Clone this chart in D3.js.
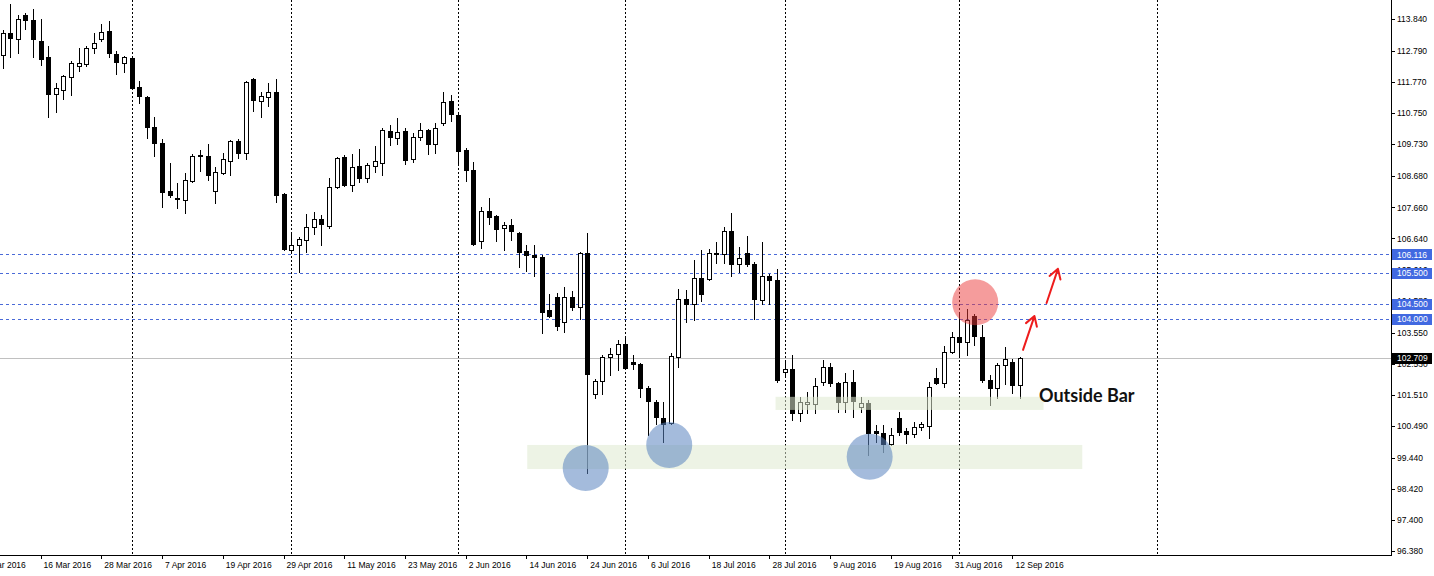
<!DOCTYPE html>
<html><head><meta charset="utf-8">
<script src="https://cdn.jsdelivr.net/npm/d3@7"></script>
<style>html,body{margin:0;padding:0;background:#fff;overflow:hidden}svg{display:block}</style>
</head><body><svg id="c" width="1434" height="576"></svg>
<script>
// ---------- DATA ----------
const dates = [
"2016-03-09","2016-03-10","2016-03-11","2016-03-14","2016-03-15","2016-03-16","2016-03-17","2016-03-18","2016-03-21","2016-03-22","2016-03-23","2016-03-24","2016-03-25","2016-03-28","2016-03-29","2016-03-30","2016-03-31",
"2016-04-01","2016-04-04","2016-04-05","2016-04-06","2016-04-07","2016-04-08","2016-04-11","2016-04-12","2016-04-13","2016-04-14","2016-04-15","2016-04-18","2016-04-19","2016-04-20","2016-04-21","2016-04-22","2016-04-25","2016-04-26","2016-04-27","2016-04-28","2016-04-29",
"2016-05-02","2016-05-03","2016-05-04","2016-05-05","2016-05-06","2016-05-09","2016-05-10","2016-05-11","2016-05-12","2016-05-13","2016-05-16","2016-05-17","2016-05-18","2016-05-19","2016-05-20","2016-05-23","2016-05-24","2016-05-25","2016-05-26","2016-05-27","2016-05-30","2016-05-31",
"2016-06-01","2016-06-02","2016-06-03","2016-06-06","2016-06-07","2016-06-08","2016-06-09","2016-06-10","2016-06-13","2016-06-14","2016-06-15","2016-06-16","2016-06-17","2016-06-20","2016-06-21","2016-06-22","2016-06-23","2016-06-24","2016-06-27","2016-06-28","2016-06-29","2016-06-30",
"2016-07-01","2016-07-04","2016-07-05","2016-07-06","2016-07-07","2016-07-08","2016-07-11","2016-07-12","2016-07-13","2016-07-14","2016-07-15","2016-07-18","2016-07-19","2016-07-20","2016-07-21","2016-07-22","2016-07-25","2016-07-26","2016-07-27","2016-07-28","2016-07-29",
"2016-08-01","2016-08-02","2016-08-03","2016-08-04","2016-08-05","2016-08-08","2016-08-09","2016-08-10","2016-08-11","2016-08-12","2016-08-15","2016-08-16","2016-08-17","2016-08-18","2016-08-19","2016-08-22","2016-08-23","2016-08-24","2016-08-25","2016-08-26","2016-08-29","2016-08-30","2016-08-31",
"2016-09-01","2016-09-02","2016-09-05","2016-09-06","2016-09-07","2016-09-08","2016-09-09","2016-09-12","2016-09-13"];

const openP = [112.66,113.38,113.18,113.97,113.81,113.12,112.59,111.38,111.51,111.94,112.30,112.36,112.89,113.18,113.45,112.69,112.40,112.56,111.61,111.28,110.30,109.77,108.20,107.97,107.90,108.52,109.34,109.34,108.20,108.79,109.18,109.84,109.44,111.87,111.15,111.28,111.45,108.10,106.26,106.42,106.59,107.01,107.28,107.05,108.33,109.31,108.39,109.02,108.62,109.02,109.11,110.16,109.94,110.16,109.25,109.97,110.20,109.74,110.43,111.15,110.69,109.54,108.89,106.55,107.54,107.38,106.98,107.08,106.82,106.23,106.10,106.03,104.29,104.72,103.90,104.72,104.39,106.16,101.53,101.96,102.75,102.85,103.17,102.58,102.52,101.73,101.27,100.75,100.58,102.75,104.65,104.49,105.34,105.31,106.13,106.13,106.88,105.80,106.16,105.80,104.62,105.41,105.27,102.26,102.35,100.91,101.20,101.20,101.93,102.42,101.89,101.27,101.93,101.11,101.24,100.32,100.25,99.89,100.75,100.32,100.22,100.45,100.48,102.06,101.89,102.91,103.40,103.24,104.09,103.40,101.99,101.73,102.49,102.58,101.83];
const highP = [113.48,114.33,113.97,114.04,114.17,113.84,112.95,111.74,112.00,112.46,112.89,112.95,113.38,113.68,113.77,112.79,112.63,112.59,111.81,111.31,110.62,109.90,109.11,108.46,108.79,109.41,109.54,109.74,108.98,109.44,109.87,109.90,111.81,111.90,111.45,111.74,111.87,108.13,106.85,106.69,107.44,107.51,107.41,108.62,109.31,109.38,109.41,109.57,109.11,109.67,110.26,110.36,110.59,110.26,110.10,110.43,110.23,110.43,111.45,111.35,110.79,109.61,109.15,107.67,107.97,107.41,107.18,107.28,106.85,106.42,106.42,106.10,104.82,104.85,105.04,104.91,106.19,106.82,102.03,102.81,103.04,103.31,103.37,102.81,102.55,101.80,101.34,101.27,102.88,104.98,104.95,105.93,106.26,106.29,106.52,107.01,107.47,106.36,106.72,105.87,106.52,105.47,105.64,102.65,102.81,101.44,101.60,102.06,102.65,102.55,101.93,102.22,102.32,101.44,101.34,100.52,100.52,100.42,100.94,100.42,100.61,100.61,101.93,102.39,103.11,103.57,104.19,104.32,104.16,103.80,102.16,102.55,103.08,102.68,102.75];
const lowP = [112.23,112.59,112.72,113.51,112.59,112.33,110.62,110.79,111.21,111.35,112.13,112.30,112.72,113.12,112.59,112.04,112.10,111.54,111.08,109.94,109.34,107.67,108.00,107.64,107.47,108.49,108.85,108.56,107.80,108.75,108.72,109.28,109.25,110.82,110.62,110.99,107.83,106.26,106.23,105.54,106.19,106.78,106.42,106.98,108.29,108.36,108.20,108.49,108.49,108.82,108.72,109.70,109.74,109.08,109.15,109.87,109.41,109.44,110.36,110.49,109.11,108.52,106.42,106.32,107.11,106.55,106.26,106.59,105.70,105.57,105.41,103.54,104.06,103.63,103.57,104.29,103.99,98.94,101.40,101.53,102.16,102.32,102.35,102.35,101.44,100.19,100.55,99.96,100.55,102.42,103.90,103.96,104.59,105.27,105.83,105.83,105.41,105.54,105.73,103.99,104.49,104.49,101.93,102.16,100.68,100.65,100.91,100.91,101.83,101.80,100.94,100.94,100.78,100.94,99.53,99.96,99.63,99.86,100.19,99.92,100.12,100.35,100.09,101.86,101.76,102.88,102.81,102.81,103.14,101.93,101.17,101.40,101.86,101.57,101.40];
const closeP = [113.38,113.22,113.84,113.81,113.18,112.53,111.38,111.58,111.97,112.40,112.40,112.89,113.05,113.41,112.72,112.43,112.59,111.58,111.31,110.30,109.77,108.16,108.06,107.93,108.56,109.34,109.38,108.72,108.82,109.25,109.84,109.44,111.77,111.18,111.31,111.45,108.06,106.29,106.42,106.62,107.01,107.28,107.11,108.33,109.28,108.39,108.98,108.62,109.05,109.18,110.20,109.97,110.13,109.21,109.97,110.20,109.74,110.26,111.12,110.72,109.51,108.89,106.46,107.54,107.34,106.95,107.08,106.88,106.19,106.10,106.03,104.22,104.09,103.77,104.72,104.39,106.16,102.19,101.96,102.75,102.85,103.17,102.39,102.52,101.73,101.30,100.78,100.55,102.78,104.65,104.49,105.34,104.82,106.16,106.16,106.88,105.80,106.00,105.80,104.65,105.41,105.27,101.99,102.35,100.91,101.27,101.27,101.80,102.42,101.89,101.27,101.93,101.30,101.24,100.25,100.25,99.89,100.19,100.29,100.22,100.45,100.55,101.76,101.89,102.91,103.40,103.24,103.96,103.44,101.99,101.73,102.49,102.68,101.83,102.709];

const yTickValues = [113.840,112.790,111.770,110.750,109.730,108.680,107.660,106.640,105.610,104.580,103.550,102.530,101.510,100.490,99.440,98.420,97.400,96.380];
const xTickLabels = ["4 Mar 2016","16 Mar 2016","28 Mar 2016","7 Apr 2016","19 Apr 2016","29 Apr 2016","11 May 2016","23 May 2016","2 Jun 2016","14 Jun 2016","24 Jun 2016","6 Jul 2016","18 Jul 2016","28 Jul 2016","9 Aug 2016","19 Aug 2016","31 Aug 2016","12 Sep 2016"];
const xTickBars = [-3,5,13,21,29,37,45,53,61,69,77,85,93,101,109,117,125,133];
const separatorBars = [17,38,60,82,103,126,152];   // first bar of Apr..Sep, and Oct (future)
const levelLines = [106.116,105.500,104.500,104.000];
const lastPrice = 102.709;
const supportCircles = [{bar:76.8,price:99.10},{bar:87.8,price:99.86},{bar:114.2,price:99.47}];
const resistanceCircles = [{bar:128.1,price:104.54}];
const zones = [{b0:69.1,b1:142.2,p0:99.86,p1:99.07},{b0:101.8,b1:137.1,p0:101.44,p1:101.01}];
const arrows = [{b0:134.4,p0:102.98,b1:135.9,p1:104.09},{b0:137.5,p0:104.52,b1:139.0,p1:105.64}];
const note = {text:"Outside Bar", bar:136.5, price:101.27};

// ---------- LAYOUT ----------
const W = 1434, H = 576, axisX = 1391, axisY = 555;
const svg = d3.select("#c");
const x = d3.scaleLinear().domain([0, 134]).range([2.6, 1020]);
const y = d3.scaleLinear().domain([96.38, 113.84]).range([551, 19]);
const px = v => Math.round(v) + 0.5;
const font = "'Liberation Sans', Arial, sans-serif";

svg.append("rect").attr("width", W).attr("height", H).attr("fill", "#fff");

// period separators
svg.append("g").selectAll("line").data(separatorBars).join("line")
  .attr("x1", d => px(x(d))).attr("x2", d => px(x(d)))
  .attr("y1", 0).attr("y2", axisY)
  .attr("stroke", "#000").attr("stroke-width", 1).attr("stroke-dasharray", "2,2");

// level lines
svg.append("g").selectAll("line").data(levelLines).join("line")
  .attr("x1", 0).attr("x2", axisX)
  .attr("y1", d => px(y(d))).attr("y2", d => px(y(d)))
  .attr("stroke", "#4a6ad8").attr("stroke-width", 1).attr("stroke-dasharray", "3,3");

// last price line
svg.append("line").attr("x1", 0).attr("x2", axisX)
  .attr("y1", px(y(lastPrice))).attr("y2", px(y(lastPrice)))
  .attr("stroke", "#c0c0c0").attr("stroke-width", 1);

// candles
const bars = dates.map((d, i) => ({d, i, o: openP[i], h: highP[i], l: lowP[i], c: closeP[i]}));
const cg = svg.append("g");
cg.selectAll("line.wick").data(bars).join("line").attr("class", "wick")
  .attr("x1", b => px(x(b.i))).attr("x2", b => px(x(b.i)))
  .attr("y1", b => Math.round(y(b.h))).attr("y2", b => Math.round(y(b.l)) + 1)
  .attr("stroke", "#000").attr("stroke-width", 1);
cg.selectAll("rect.body").data(bars).join("rect").attr("class", "body")
  .attr("x", b => Math.round(x(b.i)) - 2 + 0.5)
  .attr("y", b => Math.round(y(Math.max(b.o, b.c))) + 0.5)
  .attr("width", 4)
  .attr("height", b => Math.max(1, Math.round(y(Math.min(b.o, b.c))) - Math.round(y(Math.max(b.o, b.c)))))
  .attr("fill", b => b.c >= b.o ? "#fff" : "#000")
  .attr("stroke", "#000").attr("stroke-width", 1);

// zones
svg.append("g").selectAll("rect").data(zones).join("rect")
  .attr("x", z => x(z.b0)).attr("width", z => x(z.b1) - x(z.b0))
  .attr("y", z => y(z.p0)).attr("height", z => y(z.p1) - y(z.p0))
  .attr("fill", "#dfe9cf").attr("fill-opacity", 0.55);

// circles
svg.append("g").selectAll("circle").data(supportCircles).join("circle")
  .attr("cx", c => x(c.bar)).attr("cy", c => y(c.price)).attr("r", 23)
  .attr("fill", "#5a83c0").attr("fill-opacity", 0.55);
svg.append("g").selectAll("circle").data(resistanceCircles).join("circle")
  .attr("cx", c => x(c.bar)).attr("cy", c => y(c.price)).attr("r", 23)
  .attr("fill", "#ec3a3a").attr("fill-opacity", 0.5);

// arrows
const ag = svg.append("g").attr("stroke", "#ee1c1c").attr("stroke-width", 2).attr("fill", "none")
  .attr("stroke-linecap", "round").attr("stroke-linejoin", "round");
arrows.forEach(a => {
  const x0 = x(a.b0), y0 = y(a.p0), x1 = x(a.b1), y1 = y(a.p1);
  const ang = Math.atan2(y1 - y0, x1 - x0), L = 11, sp = 0.55;
  const hx1 = x1 - L * Math.cos(ang - sp), hy1 = y1 - L * Math.sin(ang - sp);
  const hx2 = x1 - L * Math.cos(ang + sp), hy2 = y1 - L * Math.sin(ang + sp);
  ag.append("path").attr("d", `M${x0},${y0}L${x1},${y1}M${hx1},${hy1}L${x1},${y1}L${hx2},${hy2}`);
});

// note
svg.append("text").attr("x", x(note.bar)).attr("y", y(note.price))
  .attr("font-family", "Lato, 'Open Sans', sans-serif").attr("font-weight", 700)
  .attr("font-size", 18).attr("fill", "#111").text(note.text);

// axes
svg.append("rect").attr("x", axisX + 0.5).attr("y", axisY + 0.5).attr("width", W).attr("height", H).attr("fill", "#fff");
svg.append("line").attr("x1", px(axisX)).attr("x2", px(axisX)).attr("y1", 0).attr("y2", axisY + 1)
  .attr("stroke", "#000");
svg.append("line").attr("x1", 0).attr("x2", axisX + 1).attr("y1", px(axisY)).attr("y2", px(axisY))
  .attr("stroke", "#000");

// y ticks
const yg = svg.append("g");
yg.selectAll("line").data(yTickValues).join("line")
  .attr("x1", axisX).attr("x2", axisX + 4)
  .attr("y1", d => px(y(d))).attr("y2", d => px(y(d))).attr("stroke", "#000");
yg.selectAll("text").data(yTickValues).join("text")
  .attr("x", axisX + 6).attr("y", d => y(d) + 3.2)
  .attr("font-family", font).attr("font-size", 8.5).attr("fill", "#000")
  .text(d => d.toFixed(3));

// x ticks
const xg = svg.append("g");
xg.selectAll("line").data(xTickBars).join("line")
  .attr("x1", d => px(x(d))).attr("x2", d => px(x(d)))
  .attr("y1", axisY).attr("y2", axisY + 4).attr("stroke", "#000");
xg.selectAll("text").data(xTickBars).join("text")
  .attr("x", d => x(d) + 3).attr("y", axisY + 12.5)
  .attr("font-family", font).attr("font-size", 8.5).attr("fill", "#000")
  .text((d, i) => xTickLabels[i]);

// price boxes
const boxes = levelLines.map(v => ({v, fill: "#4169e1"})).concat([{v: lastPrice, fill: "#000"}]);
const bg = svg.append("g");
bg.selectAll("rect").data(boxes).join("rect")
  .attr("x", axisX + 1).attr("y", b => Math.round(y(b.v)) - 5).attr("width", 40).attr("height", 11)
  .attr("fill", b => b.fill);
bg.selectAll("text").data(boxes).join("text")
  .attr("x", axisX + 6).attr("y", b => y(b.v) + 3.2)
  .attr("font-family", font).attr("font-size", 8.5).attr("fill", "#fff")
  .text(b => b.v.toFixed(3));
</script></body></html>
